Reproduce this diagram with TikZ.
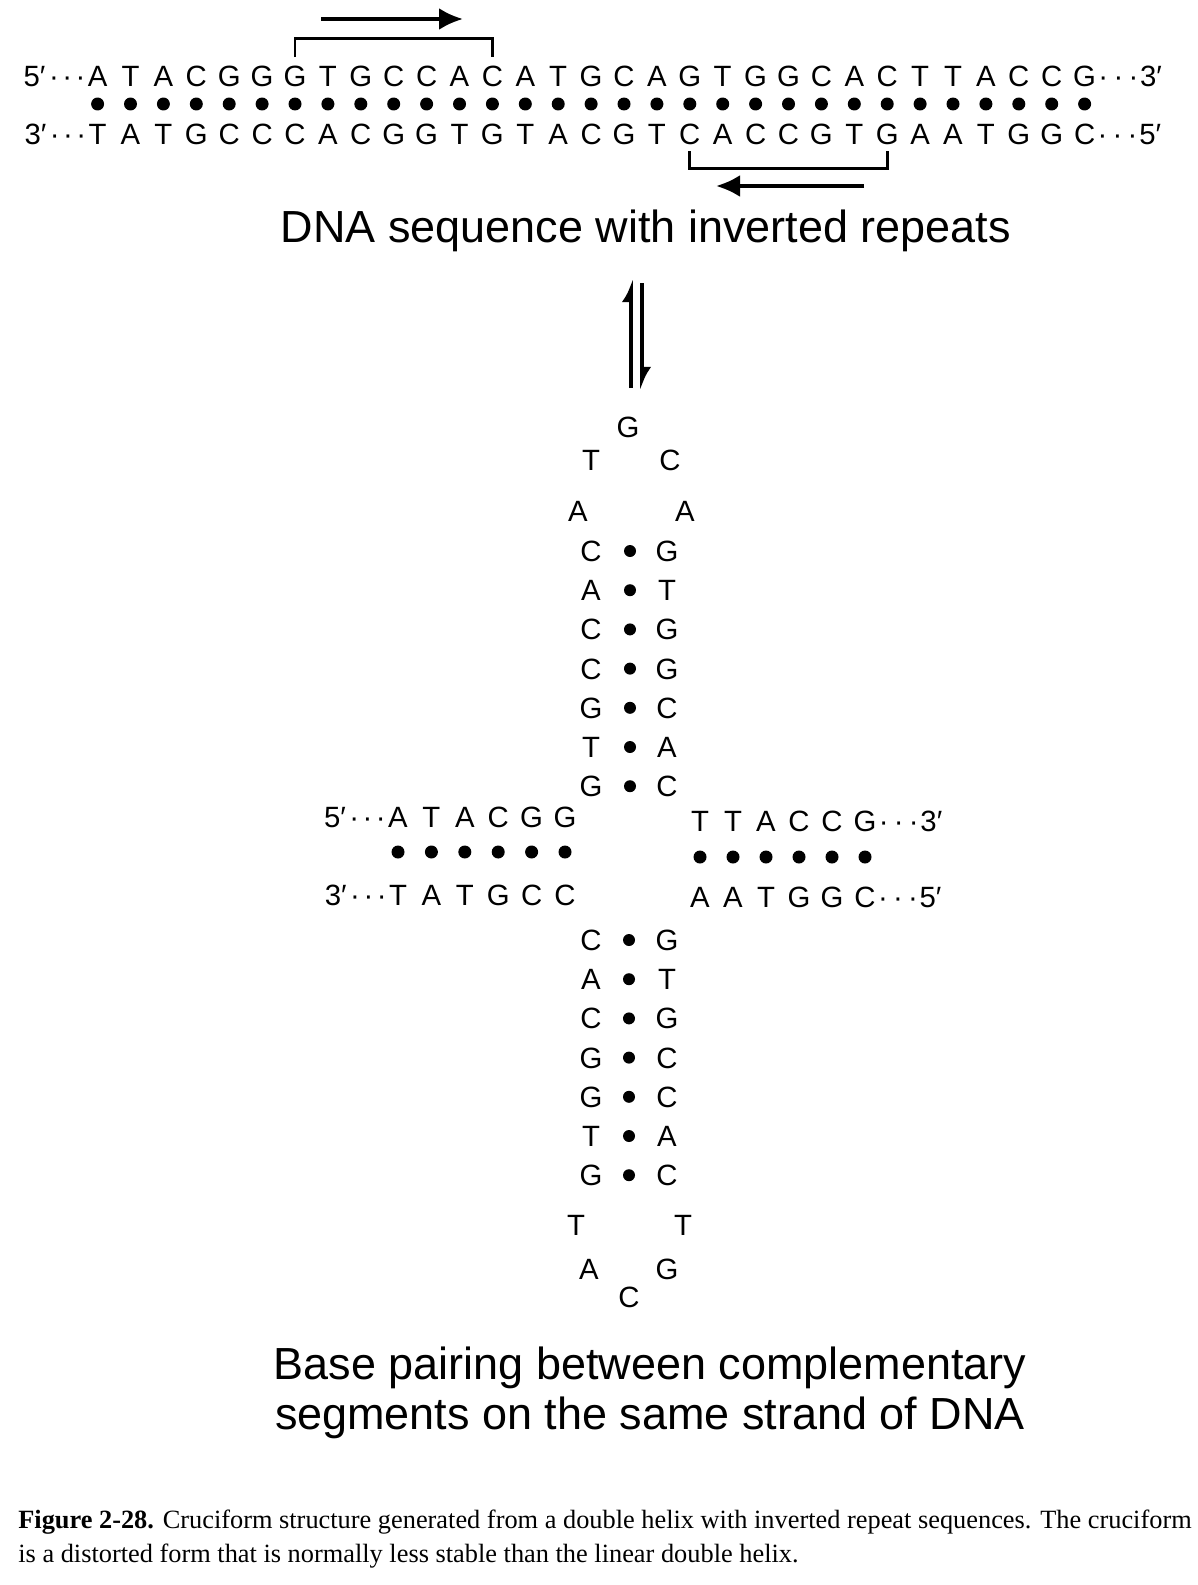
\documentclass[tikz,border=0pt]{standalone}
\usepackage{fontspec}
\setmainfont{Liberation Sans}
\newfontfamily\capfont{Liberation Serif}
\usetikzlibrary{arrows.meta}
\newcommand\seqfont{\fontsize{16.7}{20}\selectfont}

\begin{document}
\begin{tikzpicture}[
    x=0.02cm, y=-0.02cm,
    base/.style={font=\seqfont, inner sep=0pt, text height=12pt, text depth=0pt},
    bp/.style={circle, fill=black, inner sep=0pt, minimum size=0.26cm},
    arrow/.style={-{Latex[length=0.48cm, width=0.44cm]}, line width=2.2pt},
    bracket/.style={line width=1.6pt},
    harpoon/.style={-{Latex[left, length=0.36cm, width=0.38cm]}, line width=2.4pt},
    title/.style={font=\fontsize{25.6}{28.5}\selectfont, align=center, inner sep=0pt},
    caption/.style={font=\capfont\fontsize{15}{19.3}\selectfont, align=left, inner sep=0pt}
]
    \useasboundingbox (0,0) rectangle (1197,1585);

    %------------------------------------------------
    % 1. Linear double helix
    %------------------------------------------------
    \foreach \c [count=\i] in {A,T,A,C,G,G,G,T,G,C,C,A,C,A,T,G,C,A,G,T,G,G,C,A,C,T,T,A,C,C,G}
        \node[base] (t\i) at ({97.6+32.9*(\i-1)},76) {\c};
    \foreach \c [count=\i] in {T,A,T,G,C,C,C,A,C,G,G,T,G,T,A,C,G,T,C,A,C,C,G,T,G,A,A,T,G,G,C}
        \node[base] (b\i) at ({97.6+32.9*(\i-1)},134) {\c};
    \foreach \i in {1,...,31}
        \node[bp] (p\i) at ({97.6+32.9*(\i-1)},104) {};

    \node[base, anchor=east] (t5end) at ([xshift=-1pt]t1.west) {5′\kern2pt·\kern2pt·\kern2pt·};
    \node[base, anchor=east] (b3end) at ([xshift=-1pt]b1.west) {3′\kern2pt·\kern2pt·\kern2pt·};
    \node[base, anchor=west] (t3end) at ([xshift=1pt]t31.east) {·\kern3pt·\kern3pt·\kern1pt3′};
    \node[base, anchor=west] (b5end) at ([xshift=1pt]b31.east) {·\kern3pt·\kern3pt·\kern1pt5′};

    % inverted repeats
    \draw[bracket] ([yshift=4.5pt]t7.north) -- ([yshift=15pt]t7.north) -| ([yshift=4.5pt]t13.north);
    \draw[bracket] ([yshift=-3.5pt]b19.south) -- ([yshift=-13.5pt]b19.south) -| ([yshift=-3.5pt]b25.south);

    \coordinate (fwdA) at (321,19);
    \coordinate (fwdB) at (463,19);
    \coordinate (revA) at (864,186);
    \coordinate (revB) at (716,186);
    \draw[arrow] (fwdA) -- (fwdB);
    \draw[arrow] (revA) -- (revB);

    \node[title] (head) at (646,231) {DNA sequence with inverted repeats};

    %------------------------------------------------
    % 2. Equilibrium
    %------------------------------------------------
    \coordinate (upA) at (631,388);
    \coordinate (upB) at (631,279);
    \coordinate (dnA) at (642,283);
    \coordinate (dnB) at (642,390);
    \draw[harpoon] (upA) -- (upB);
    \draw[harpoon] (dnA) -- (dnB);

    %------------------------------------------------
    % 3. Cruciform
    %------------------------------------------------
    % upper loop
    \node[base] (ul1) at (578,511) {A};
    \node[base] (ul2) at (591,460) {T};
    \node[base] (ul3) at (628,427) {G};
    \node[base] (ul4) at (670,460) {C};
    \node[base] (ul5) at (685,511) {A};

    % upper stem
    \foreach \l/\r [count=\i] in {C/G,A/T,C/G,C/G,G/C,T/A,G/C} {
        \node[base] (ua\i) at (591,{551+39.2*(\i-1)}) {\l};
        \node[bp, minimum size=0.24cm] (up\i) at (630,{551+39.2*(\i-1)}) {};
        \node[base] (ub\i) at (667,{551+39.2*(\i-1)}) {\r};
    }

    % left arm
    \foreach \a/\b [count=\i] in {A/T,T/A,A/T,C/G,G/C,G/C} {
        \node[base] (la\i) at ({398+33.4*(\i-1)},817) {\a};
        \node[bp] (lp\i) at ({398+33.4*(\i-1)},852) {};
        \node[base] (lb\i) at ({398+33.4*(\i-1)},895) {\b};
    }
    \node[base, anchor=east] (la5end) at ([xshift=-1pt]la1.west) {5′\kern2pt·\kern2pt·\kern2pt·};
    \node[base, anchor=east] (lb3end) at ([xshift=-1pt]lb1.west) {3′\kern2pt·\kern2pt·\kern2pt·};

    % right arm
    \foreach \a/\b [count=\i] in {T/A,T/A,A/T,C/G,C/G,G/C} {
        \node[base] (ra\i) at ({700+33*(\i-1)},821) {\a};
        \node[bp] (rp\i) at ({700+33*(\i-1)},857) {};
        \node[base] (rb\i) at ({700+33*(\i-1)},897) {\b};
    }
    \node[base, anchor=west] (ra3end) at ([xshift=1pt]ra6.east) {·\kern3pt·\kern3pt·\kern1pt3′};
    \node[base, anchor=west] (rb5end) at ([xshift=1pt]rb6.east) {·\kern3pt·\kern3pt·\kern1pt5′};

    % lower stem
    \foreach \l/\r [count=\i] in {C/G,A/T,C/G,G/C,G/C,T/A,G/C} {
        \node[base] (da\i) at (591,{940+39.2*(\i-1)}) {\l};
        \node[bp, minimum size=0.24cm] (dp\i) at (629,{940+39.2*(\i-1)}) {};
        \node[base] (db\i) at (667,{940+39.2*(\i-1)}) {\r};
    }

    % lower loop
    \node[base] (dl1) at (576,1225) {T};
    \node[base] (dl2) at (589,1269) {A};
    \node[base] (dl3) at (629,1297) {C};
    \node[base] (dl4) at (667,1269) {G};
    \node[base] (dl5) at (683,1225) {T};

    \node[title] (foot) at (650,1393) {Base pairing between complementary\\ segments on the same strand of DNA};

    %------------------------------------------------
    % 4. Caption
    %------------------------------------------------
    \node[caption, anchor=north west] (cap) at (18,1510)
    {\textbf{Figure 2-28.} Cruciform structure generated from a double helix with inverted repeat sequences. The cruciform\\
     is a distorted form that is normally less stable than the linear double helix.};

\end{tikzpicture}
\end{document}
